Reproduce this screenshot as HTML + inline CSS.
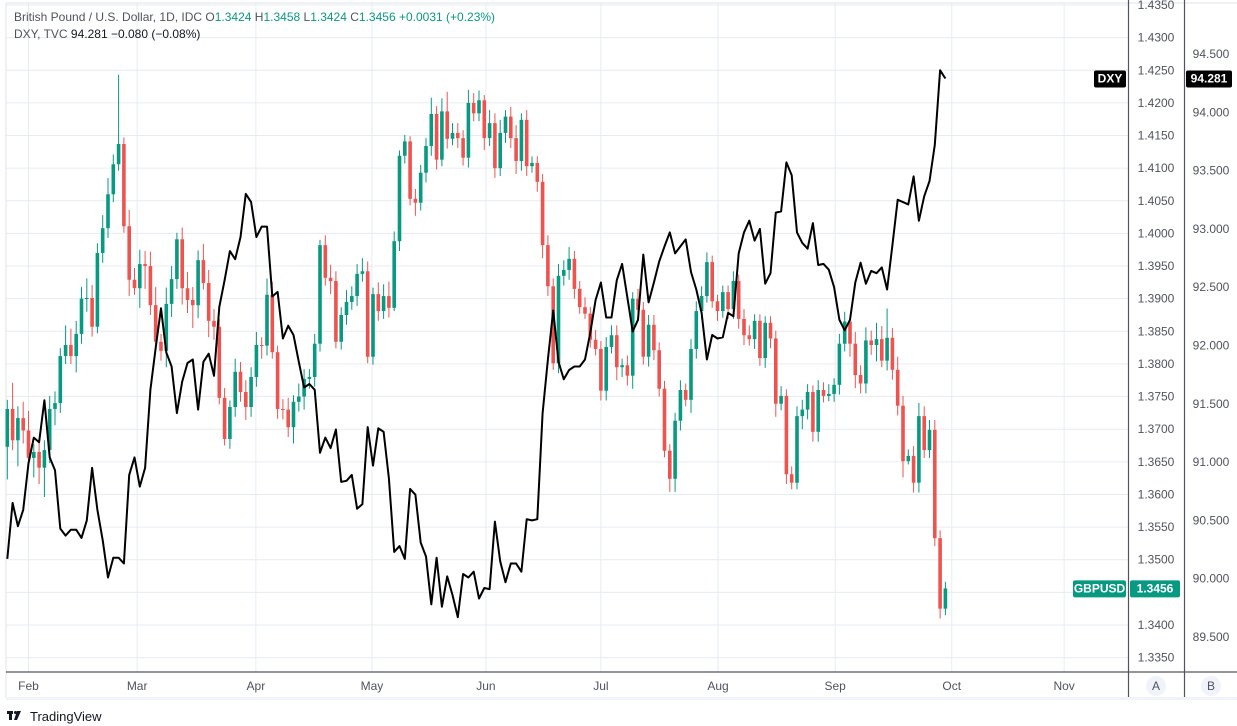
<!DOCTYPE html>
<html><head><meta charset="utf-8"><title>GBPUSD vs DXY</title>
<style>
html,body{margin:0;padding:0;background:#fff;width:1237px;height:726px;overflow:hidden;font-family:"Liberation Sans",sans-serif;}
svg text{font-family:"Liberation Sans",sans-serif;}
</style></head>
<body>
<svg id="chart" width="1237" height="726" xmlns="http://www.w3.org/2000/svg">
  <rect x="0" y="0" width="1237" height="726" fill="#ffffff"/>
  <g id="grid"></g>
  <g id="candles"></g>
  <g id="dxyline"></g>
  <g id="axes"></g>
  <g>
    <text x="14" y="21" font-size="12" fill="#50535e">British Pound / U.S. Dollar, 1D, IDC  <tspan fill="#50535e">O</tspan><tspan fill="#089981">1.3424</tspan>  <tspan fill="#50535e">H</tspan><tspan fill="#089981">1.3458</tspan>  <tspan fill="#50535e">L</tspan><tspan fill="#089981">1.3424</tspan>  <tspan fill="#50535e">C</tspan><tspan fill="#089981">1.3456</tspan>  <tspan fill="#089981">+0.0031 (+0.23%)</tspan></text>
    <text x="14" y="38" font-size="12" fill="#50535e">DXY, TVC  <tspan fill="#131722">94.281</tspan>  <tspan fill="#131722">−0.080 (−0.08%)</tspan></text>
  </g>
  <g>
    <rect x="7" y="711" width="6" height="3" fill="#131722"/>
    <rect x="9" y="711" width="3" height="9" fill="#131722"/>
    <circle cx="15.5" cy="712.5" r="1.5" fill="#131722"/>
    <polygon points="17,711 21,711 17,720 14,720" fill="#131722"/>
    <text x="30" y="721" font-size="13" fill="#131722">TradingView</text>
  </g>
</svg>
<script>
// ---- data ----
const closes = [1.3731,1.3683,1.3717,1.3698,1.3656,1.3665,1.3641,1.3668,1.3731,1.3740,
1.3812,1.3829,1.3812,1.3846,1.3900,1.3901,1.3857,1.3970,1.4008,1.4060,
1.4106,1.4137,1.4011,1.3929,1.3916,1.3953,1.3950,1.3890,1.3834,1.3820,
1.3892,1.3930,1.3991,1.3916,1.3898,1.3890,1.3959,1.3924,1.3866,1.3857,
1.3748,1.3685,1.3734,1.3788,1.3757,1.3734,1.3780,1.3829,1.3828,1.3906,
1.3818,1.3731,1.3730,1.3703,1.3742,1.3750,1.3777,1.3780,1.3831,1.3982,
1.3932,1.3927,1.3834,1.3875,1.3895,1.3904,1.3938,1.3942,1.3811,1.3907,
1.3881,1.3904,1.3886,1.3988,1.4119,1.4141,1.4053,1.4047,1.4093,1.4134,
1.4183,1.4113,1.4187,1.4145,1.4154,1.4146,1.4116,1.4200,1.4184,1.4204,
1.4146,1.4169,1.4100,1.4154,1.4179,1.4146,1.4111,1.4174,1.4103,1.4108,
1.4079,1.3982,1.3919,1.3801,1.3935,1.3944,1.3961,1.3915,1.3887,1.3877,
1.3837,1.3823,1.3759,1.3826,1.3844,1.3795,1.3798,1.3782,1.3900,1.3883,
1.3811,1.3860,1.3821,1.3762,1.3667,1.3624,1.3713,1.3760,1.3745,1.3823,
1.3881,1.3904,1.3956,1.3896,1.3881,1.3910,1.3884,1.3927,1.3869,1.3844,
1.3838,1.3866,1.3809,1.3863,1.3839,1.3739,1.3751,1.3631,1.3618,1.3720,
1.3730,1.3757,1.3696,1.3760,1.3751,1.3754,1.3768,1.3831,1.3865,1.3831,
1.3783,1.3770,1.3836,1.3829,1.3838,1.3805,1.3840,1.3791,1.3736,1.3651,
1.3659,1.3618,1.3720,1.3668,1.3699,1.3533,1.3425,1.3456];
const firstOpen = 1.3673;
const wickUp = [14,40,18,25,30,12,22,15,20,18, 12,30,25,20,18,30,20,15,20,25, 15,106,10,25,18,22,20,22,28,12, 25,20,10,18,25,20,15,25,20,18, 12,15,10,20,15,18,15,20,12,25, 20,10,15,18,10,20,15,12,15,8,
15,20,15,12,18,15,15,20,15,10, 18,18,22,15,8,10,8,15,12,12, 25,12,20,30,15,15,12,20,15,15, 8,20,15,20,10,15,20,10,15,10, 10,12,15,12,18,15,18,12,12,15, 10,15,12,15,15,15,10,15,10,15,
12,15,15,12,12,10,12,15,10,15, 15,15,15,10,10,10,10,15,10,15, 15,10,10,10,10,12,15,10,12,15, 15,12,10,15,12,15,10,15,15,10, 18,15,20,15,25,20,45,15,20,15, 10,15,20,15,15,15,12,10];
const wickDn = [50,15,40,20,15,30,25,45,20,25, 15,12,12,25,15,20,15,10,15,15, 12,10,10,25,10,30,35,15,10,15, 25,20,15,25,20,35,20,10,25,20, 10,10,15,15,15,20,15,15,20,15, 10,15,15,15,25,15,20,15,15,12,
12,20,10,12,15,12,15,12,10,12, 15,12,15,5,15,12,10,20,12,15, 15,15,10,15,10,15,12,15,12,12, 18,12,15,12,15,15,20,15,15,10, 15,20,15,10,15,15,15,15,10,8, 12,10,15,15,10,20,15,15,20,15,
12,15,15,12,10,20,20,15,10,20, 15,12,10,10,15,10,15,15,15,15, 10,15,12,15,15,20,10,15,10,10, 20,15,15,15,10,8,12,15,12,20, 20,15,15,15,25,10,15,15,15,25, 5,15,15,12,12,12,15,10];
const dxy = [90.17,90.65,90.45,90.59,90.99,91.21,91.17,91.53,91.04,90.93,
90.43,90.37,90.42,90.42,90.35,90.50,90.95,90.59,90.33,90.01,
90.18,90.18,90.13,90.89,91.04,90.79,90.95,91.62,91.98,92.32,
91.94,91.82,91.42,91.69,91.85,91.88,91.45,91.86,91.93,91.74,
92.33,92.56,92.81,92.74,92.93,93.30,93.23,92.93,93.02,93.02,
92.42,92.46,92.06,92.17,92.09,91.86,91.64,91.67,91.62,91.08,
91.21,91.12,91.28,90.83,90.84,90.89,90.60,90.64,91.30,90.97,
91.29,91.26,90.86,90.23,90.28,90.17,90.77,90.72,90.31,90.19,
89.78,90.18,89.76,90.02,89.86,89.67,90.04,90.01,90.06,89.83,
89.92,89.91,90.49,90.15,89.97,90.13,90.13,90.06,90.51,90.50,
90.51,91.42,91.88,92.30,91.86,91.71,91.79,91.82,91.82,91.88,
92.11,92.39,92.54,92.24,92.24,92.56,92.70,92.41,92.12,92.22,
92.78,92.37,92.54,92.72,92.85,92.97,92.79,92.85,92.91,92.63,
92.48,92.28,91.88,92.09,92.06,92.07,92.28,92.25,92.79,92.97,
93.07,92.90,93.00,92.53,92.62,93.14,93.15,93.57,93.46,92.97,
92.88,92.83,93.05,92.69,92.70,92.65,92.50,92.22,92.13,92.22,
92.54,92.71,92.53,92.64,92.62,92.67,92.48,92.86,93.25,93.23,
93.21,93.45,93.07,93.28,93.41,93.72,94.36,94.29];
const priceTicks = ["1.4350","1.4300","1.4250","1.4200","1.4150","1.4100","1.4050","1.4000","1.3950","1.3900","1.3850","1.3800","1.3750","1.3700","1.3650","1.3600","1.3550","1.3500","1.3450","1.3400","1.3350"];
const dxyTicks = ["94.500","94.000","93.500","93.000","92.500","92.000","91.500","91.000","90.500","90.000","89.500"];
const monthLabels = ["Feb","Mar","Apr","May","Jun","Jul","Aug","Sep","Oct","Nov"];
const monthIndex = [4,24.5,46.9,68.8,90.3,112,134.1,156.2,178.2,199.4];

// ---- scales ----
const NS='http://www.w3.org/2000/svg';
function xS(i){return 7.3 + i*5.3;}
function yP(v){return 5 + (1.4350 - v)*6526;}
function yD(v){return 54 + (94.5 - v)*116.6;}
const PLOT_R=1128, PLOT_B=672;
function mk(tag, attrs, parent){const e=document.createElementNS(NS,tag);for(const k in attrs)e.setAttribute(k,attrs[k]);parent.appendChild(e);return e;}

const grid=document.getElementById('grid');
const axes=document.getElementById('axes');
const cg=document.getElementById('candles');
const lg=document.getElementById('dxyline');

priceTicks.forEach(t=>{
  const y=yP(parseFloat(t));
  const l=mk('line',{x1:6,x2:PLOT_R,y1:y,y2:y,stroke:'#e6ecf2','stroke-width':1},grid);
  
  
  const tx=mk('text',{x:1156,y:y+4,'font-size':12,fill:'#50535e','text-anchor':'middle'},axes);
  tx.textContent=t;
  
  
});
dxyTicks.forEach(t=>{
  const y=yD(parseFloat(t));
  const tx=mk('text',{x:1211,y:y+4,'font-size':12,fill:'#50535e','text-anchor':'middle'},axes);
  tx.textContent=t;
  
  
});
monthLabels.forEach((m,k)=>{
  const x=xS(monthIndex[k]);
  const l=mk('line',{x1:x,x2:x,y1:3,y2:PLOT_B,stroke:'#e6ecf2','stroke-width':1},grid);
  
  
  const tx=mk('text',{x:x,y:690,'font-size':12,fill:'#50535e','text-anchor':'middle'},axes);
  tx.textContent=m;
  
  
});
mk('line',{x1:6,x2:6,y1:3,y2:698,stroke:'#e0e3eb'},grid);
mk('line',{x1:6,x2:1237,y1:3,y2:3,stroke:'#e0e3eb'},grid);
mk('rect',{x:6,y:697,width:1231,height:3,fill:'#f0f3fa'},grid);
mk('line',{x1:6,x2:1237,y1:PLOT_B,y2:PLOT_B,stroke:'#50535e','stroke-width':1.2},axes);
mk('line',{x1:1128.5,x2:1128.5,y1:0,y2:697,stroke:'#50535e','stroke-width':1.2},axes);
mk('line',{x1:1184.5,x2:1184.5,y1:0,y2:697,stroke:'#50535e','stroke-width':1.2},axes);

let prev=firstOpen;
closes.forEach((c,i)=>{
  const o=prev; prev=c;
  const up=c>=o; const col=up?'#089981':'#ef5350';
  const hi=Math.max(o,c)+wickUp[i]/10000, lo=Math.min(o,c)-wickDn[i]/10000;
  const x=xS(i);
  const g=mk('g',{},cg);
  
  
  mk('line',{x1:x,x2:x,y1:yP(hi),y2:yP(lo),stroke:col,'stroke-width':1},g);
  const yt=yP(Math.max(o,c)), yb=yP(Math.min(o,c));
  mk('rect',{x:x-1.8,y:yt,width:3.6,height:Math.max(1,yb-yt),fill:col},g);
});

const pts=dxy.map((v,i)=>xS(i).toFixed(1)+','+yD(v).toFixed(1)).join(' ');
const pl=mk('polyline',{points:pts,fill:'none',stroke:'#000','stroke-width':2,'stroke-linejoin':'round'},lg);



function tag(x,y,w,txt,bg,name){
  const g=mk('g',{},axes);
  
  
  mk('rect',{x:x,y:y-8,width:w,height:17,rx:2,fill:bg},g);
  const t=mk('text',{x:x+w/2,y:y+4,'font-size':12,'font-weight':'bold',fill:'#fff','text-anchor':'middle'},g);
  t.textContent=txt;
}
const lastD=dxy[dxy.length-1], lastC=closes[closes.length-1];
tag(1094,yD(lastD),32,'DXY','#000','dxy-series-tag');
tag(1186,yD(lastD),46,'94.281','#000','dxy-last-price');
tag(1073,yP(lastC),53,'GBPUSD','#089981','gbpusd-series-tag');
tag(1130,yP(lastC),50,lastC.toFixed(4),'#089981','gbpusd-last-price');

[['A',1156],['B',1211]].forEach(([l,x])=>{
  const g=mk('g',{},axes);
  
  
  mk('circle',{cx:x,cy:686,r:10,fill:'#f0f3fa'},g);
  const t=mk('text',{x:x,y:690,'font-size':12,fill:'#50535e','text-anchor':'middle'},g);
  t.textContent=l;
});
</script>
</body></html>
